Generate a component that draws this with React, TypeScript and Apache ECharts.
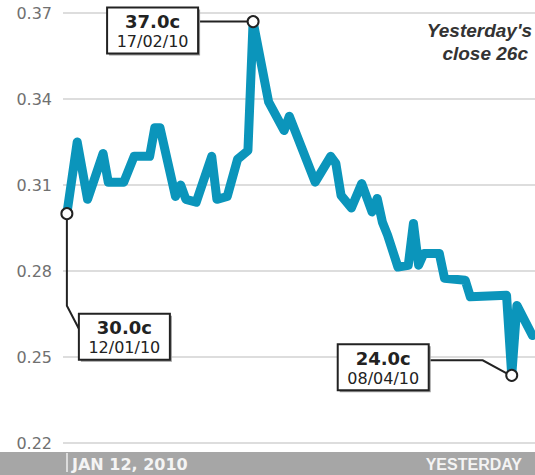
import React, { useEffect, useRef } from "react";
import * as echarts from "echarts";

const dates: string[] = [
  "2010-01-12", "2010-01-14", "2010-01-16", "2010-01-19", "2010-01-20", "2010-01-23",
  "2010-01-25", "2010-01-28", "2010-01-29", "2010-01-30", "2010-02-02", "2010-02-03",
  "2010-02-04", "2010-02-06", "2010-02-09", "2010-02-10", "2010-02-12", "2010-02-14",
  "2010-02-16", "2010-02-17", "2010-02-20", "2010-02-23", "2010-02-24", "2010-03-01",
  "2010-03-04", "2010-03-05", "2010-03-06", "2010-03-08", "2010-03-10", "2010-03-12",
  "2010-03-13", "2010-03-14", "2010-03-15", "2010-03-17", "2010-03-19", "2010-03-20",
  "2010-03-21", "2010-03-22", "2010-03-25", "2010-03-26", "2010-03-30", "2010-03-31",
  "2010-04-07", "2010-04-08", "2010-04-09", "2010-04-12",
];
const prices: number[] = [
  0.300, 0.325, 0.305, 0.321, 0.311, 0.311,
  0.320, 0.320, 0.330, 0.330, 0.306, 0.310,
  0.305, 0.304, 0.320, 0.305, 0.306, 0.319,
  0.322, 0.367, 0.339, 0.329, 0.334, 0.311,
  0.320, 0.3175, 0.3064, 0.302, 0.3105, 0.3006,
  0.3053, 0.297, 0.2925, 0.2814, 0.282, 0.2966,
  0.282, 0.2861, 0.2861, 0.2775, 0.2768, 0.271,
  0.2715, 0.2436, 0.268, 0.2575,
];

const markerDates: string[] = ["2010-01-12", "2010-02-17", "2010-04-08"];
const markerValues: number[] = [0.300, 0.367, 0.2436];
const markerPrices: string[] = ["30.0c", "37.0c", "24.0c"];
const markerLabels: string[] = ["12/01/10", "17/02/10", "08/04/10"];

const yMin = 0.22;
const yMax = 0.37;
const yStep = 0.03;

const startLabel = "JAN 12, 2010";
const endLabel = "YESTERDAY";
const noteLines: string[] = ["Yesterday's", "close 26c"];

const LINE_COLOR = "#0b95bb";
const INK = "#222222";

export default function App() {
  const ref = useRef<HTMLDivElement>(null);

  useEffect(() => {
    if (!ref.current) return;
    const chart = echarts.init(ref.current, null, { renderer: "svg" });
    const xMin = new Date(2010, 0, 11, 6, 0).getTime();
    const xMax = new Date(2010, 3, 12, 12, 0).getTime();

    chart.setOption({
      animation: false,
      backgroundColor: "#ffffff",
      grid: { left: 63, right: 0, top: 13, bottom: 32, containLabel: false },
      xAxis: {
        type: "time",
        min: xMin,
        max: xMax,
        axisLine: { show: false },
        axisTick: { show: false },
        axisLabel: { show: false },
        splitLine: { show: false },
      },
      yAxis: {
        type: "value",
        min: yMin,
        max: yMax,
        interval: yStep,
        axisLine: { show: false },
        axisTick: { show: false },
        axisLabel: {
          margin: 11,
          color: "#707070",
          fontFamily: "DejaVu Sans",
          fontSize: 16,
          formatter: (v: number) => v.toFixed(2),
        },
        splitLine: { lineStyle: { color: "#d2d2d2", width: 1.5 } },
      },
      series: [
        {
          type: "line",
          data: dates.map((d, i) => [d, prices[i]]),
          showSymbol: false,
          symbol: "none",
          lineStyle: { color: LINE_COLOR, width: 9, join: "round", cap: "round" },
          z: 2,
        },
        {
          type: "scatter",
          data: markerDates.map((d, i) => [d, markerValues[i]]),
          symbol: "circle",
          symbolSize: 11,
          itemStyle: { color: "#ffffff", borderColor: INK, borderWidth: 2, opacity: 1 },
          z: 10,
        },
      ],
    });

    const px = markerDates.map((d, i) =>
      chart.convertToPixel({ gridIndex: 0 }, [d, markerValues[i]]) as number[]
    );
    const [s, p, l] = px;

    const box = (x: number, y: number, price: string, label: string) => ({
      type: "group",
      z: 6,
      children: [
        { type: "rect", shape: { x: x + 2, y: y + 2, width: 91, height: 46 }, style: { fill: "#9a9a9a" }, z: 6 },
        { type: "rect", shape: { x, y, width: 91, height: 46 }, style: { fill: "#ffffff", stroke: INK, lineWidth: 2 }, z: 7 },
        {
          type: "text", z: 8,
          style: {
            text: price, x: x + 45.5, y: y + 14, fill: INK,
            font: 'bold 18px "DejaVu Sans"', align: "center", verticalAlign: "middle",
            textAlign: "center", textVerticalAlign: "middle",
          },
        },
        {
          type: "text", z: 8,
          style: {
            text: label, x: x + 45.5, y: y + 34, fill: INK,
            font: '16px "DejaVu Sans"', align: "center", verticalAlign: "middle",
            textAlign: "center", textVerticalAlign: "middle",
          },
        },
      ],
    });

    const leader = (points: number[][]) => ({
      type: "polyline",
      z: 5,
      shape: { points },
      style: { stroke: INK, lineWidth: 2, fill: null },
    });

    chart.setOption({
      graphic: [
        { type: "rect", z: 1, shape: { x: 0, y: 452, width: 535, height: 23 }, style: { fill: "#a6a6a6" } },
        { type: "line", z: 2, shape: { x1: 67, y1: 453, x2: 67, y2: 472 }, style: { stroke: "#eeeeee", lineWidth: 1.5 } },
        {
          type: "text", z: 3,
          style: {
            text: startLabel, x: 72, y: 464, fill: "#f4f4f4",
            font: 'bold 16px "DejaVu Sans"', align: "left", verticalAlign: "middle",
            textAlign: "left", textVerticalAlign: "middle",
          },
        },
        {
          type: "text", z: 3,
          style: {
            text: endLabel, x: 522, y: 464, fill: "#f4f4f4",
            font: 'bold 16px "Liberation Sans"', align: "right", verticalAlign: "middle",
            textAlign: "right", textVerticalAlign: "middle",
          },
        },
        ...noteLines.map((t, i) => ({
          type: "text", z: 3,
          style: {
            text: t, x: i === 0 ? 532 : 528, y: 30 + i * 23, fill: "#333333",
            font: 'italic bold 19px "Liberation Sans"', align: "right", verticalAlign: "middle",
            textAlign: "right", textVerticalAlign: "middle",
          },
        })),
        leader([[p[0] - 56, p[1]], [p[0] - 5, p[1]]]),
        leader([[s[0], s[1] + 5], [s[0], s[1] + 92], [s[0] + 12, s[1] + 115]]),
        leader([[l[0] - 83, l[1] - 15], [l[0] - 29, l[1] - 15], [l[0] - 5, l[1] - 2]]),
        box(p[0] - 146, p[1] - 14, markerPrices[1], markerLabels[1]),
        box(s[0] + 12, s[1] + 100, markerPrices[0], markerLabels[0]),
        box(l[0] - 174, l[1] - 31, markerPrices[2], markerLabels[2]),
      ],
    });

    return () => chart.dispose();
  }, []);

  return (
    <div
      ref={ref}
      style={{ position: "fixed", left: 0, top: 0, width: 535, height: 475, background: "#fff" }}
    />
  );
}
